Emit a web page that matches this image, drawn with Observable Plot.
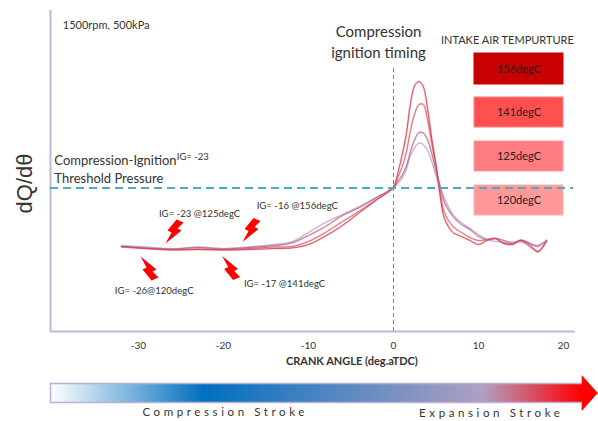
<!DOCTYPE html>
<html>
<head>
<meta charset="utf-8">
<script src="https://cdn.jsdelivr.net/npm/d3@7"></script>
<script src="https://cdn.jsdelivr.net/npm/@observablehq/plot@0.6"></script>
<style>
html,body{margin:0;padding:0;background:#fff}
svg{display:block}
</style>
</head>
<body>
<div id="chart"></div>
<script>
const crank = [-32,-29,-26,-23,-20,-17,-14,-12,-10,-8,-6,-4,-2,0,0.5,1,1.5,2,2.5,3,3.5,4,4.5,5,5.5,6,7,8,9,10,11,12,13,14,15,16,17,18];
const heat156 = [85,83,81.5,82,81.5,82,83,83.5,87,95.5,106,119,131.5,145,158,176,197,228,246,250,245,223,193,167,135,113,99,95,91,87,91,93,88,87,91,87,79.5,91];
const heat141 = [84.5,83,82,82.5,82,83,84.5,85,90,99,110,120.5,132,144,154,164,179,201,218,227,227,212,188,165,139,119,105,99,94,91,92,93,88,88,91,85,80.5,90];
const heat125 = [85,83.5,82.5,84,82.5,84,86,88.5,96,105,116,124,134,144,150,156,165,180,192,199,198.5,192,178,161,145,129,115,107,102,95,92,93,91,88,91.5,88.5,85,91];
const heat120 = [86,84.5,82.5,84.5,83,84.5,87,89.5,99,109,117,125,134,143,148,153,162,176,184,188.5,187,181,170,156,144,133,117,109,103,97,92,90,89.5,89.5,89.5,87,86.5,91];
const seriesNames = ["120degC","125degC","141degC","156degC"];
const seriesValues = [heat120,heat125,heat141,heat156];
const seriesColors = ["#b8a0c8","#b9688f","#d8606e","#d8404c"];

const boxColors = ["#ff9999","#ff7c80","#ff5050","#c80000"];
const boxStroke = ["#ffb0b0","#ff9a9c","#ff8080","#c80000"];
const boxTop = [146,190,234,278];
const boxBottom = [116,160,204,247];
const boxLeft = 9.53, boxRight = 20;
const xTicks = [-30,-20,-10,0,10,20];
const threshold = 143.5;
const axisLeft = -40.35, axisRight = 21.4, plotTop = 321;

const igLabels = ["IG= -23 @125degC","IG= -16 @156degC","IG= -26@120degC","IG= -17 @141degC"];
const igX = [-27.6,-16.1,-32.8,-17.6];
const igY = [118,126,40.3,48];
const boltUpX = [-25.76,-16.7];
const boltUpY = [100,101.5];
const boltDownX = [-28.7,-19.1];
const boltDownY = [63,63.5];

const arrowX = [-40.35,22.2,22.2,24.1];
const arrowLow = [-71,-71,-80,-62];
const arrowHigh = [-52,-52,-44,-62];

const lines = seriesNames.flatMap((name,i)=>crank.map((c,j)=>({crank:c,value:seriesValues[i][j],name})));
const boxes = seriesNames.map((name,i)=>({name,color:boxColors[i],edge:boxStroke[i],top:boxTop[i],bottom:boxBottom[i]}));
const arrow = arrowX.map((x,i)=>({x,lo:arrowLow[i],hi:arrowHigh[i]}));
const ig = igLabels.map((t,i)=>({t,x:igX[i],y:igY[i]}));

function boltSymbol(sign){
  return {draw(ctx,size){
    const s = Math.sqrt(size/Math.PI)/10;
    const pts = [[-9,12],[-3,1],[-7,-1],[2,-12],[9,-9],[3,-3],[7,-1]];
    pts.forEach(([x,y],i)=>{
      const px = x*s, py = y*s*sign;
      if(i===0) ctx.moveTo(px,py); else ctx.lineTo(px,py);
    });
    ctx.closePath();
  }};
}
const gradient = () => {
  const defs = d3.create("svg:defs");
  const g = defs.append("linearGradient").attr("id","strokeGrad").attr("x1","0").attr("x2","1").attr("y1","0").attr("y2","0");
  [["0","#ffffff"],["0.28","#0070c0"],["0.79","#b0a0c4"],["0.97","#ff0000"],["1","#ff0000"]]
    .forEach(([o,c])=>g.append("stop").attr("offset",o).attr("stop-color",c));
  return defs.node();
};
const F = "Lato";
const INK = "#333333";
const label = (t,x,y,opts={}) => Plot.text([t],{x:()=>x,y:()=>y,text:d=>d,fontFamily:F,fill:INK,...opts});

const plot = Plot.plot({
  width:598,height:421,
  marginTop:0,marginRight:0,marginBottom:0,marginLeft:0,
  x:{domain:[-46.235,24.118],range:[0,598]},
  y:{domain:[-90,331],range:[421,0],axis:null},
  color:{domain:seriesNames,range:seriesColors},
  style:{background:"#fff",fontFamily:F},
  marks:[
    gradient,
    Plot.ruleX([axisLeft],{y1:0,y2:plotTop,stroke:"#c0b6d6",strokeWidth:2}),
    Plot.ruleY([0],{x1:axisLeft,x2:axisRight,stroke:"#c0b6d6",strokeWidth:2}),
    Plot.axisX({ticks:xTicks,tickSize:0,tickPadding:0,tickFormat:d=>String(d),dy:-80,fontSize:10,fontFamily:F,fill:INK,label:null}),
    Plot.rect(boxes,{x1:()=>boxLeft,x2:()=>boxRight,y1:"bottom",y2:"top",fill:"color",stroke:"edge"}),
    Plot.text(boxes,{x:()=>(boxLeft+boxRight)/2,y:d=>(d.top+d.bottom)/2,text:"name",fontSize:11,fontFamily:F,fill:"#222"}),
    Plot.ruleX([0],{y1:0,y2:266,stroke:"#8e6fc0",strokeDasharray:"4,3",strokeWidth:1}),
    Plot.line(lines,{x:"crank",y:"value",z:"name",stroke:"name",strokeWidth:2.2,strokeOpacity:0.25,curve:"catmull-rom"}),
    Plot.line(lines,{x:"crank",y:"value",z:"name",stroke:"name",strokeWidth:0.9,curve:"catmull-rom"}),
    Plot.ruleY([threshold],{x1:axisLeft,x2:21.2,stroke:"#4bacc6",strokeDasharray:"8,5",strokeWidth:1.8}),
    label("1500rpm, 500kPa",-38.9,306,{textAnchor:"start",fontSize:11}),
    label("Compression",-1.76,299,{fontSize:15}),
    label("ignition timing",-1.76,278,{fontSize:15}),
    label("INTAKE AIR TEMPURTURE",13.4,291,{fontSize:11}),
    label("Compression-Ignition",-39.9,171,{textAnchor:"start",fontSize:13}),
    label("Threshold Pressure",-39.9,152.5,{textAnchor:"start",fontSize:13}),
    label("IG= -23",-25.5,175,{textAnchor:"start",fontSize:9.5}),
    Plot.text(ig,{x:"x",y:"y",text:"t",textAnchor:"start",fontSize:9.6,fontFamily:F,fill:INK}),
    Plot.dot(boltUpX.map((x,i)=>({x,y:boltUpY[i]})),{x:"x",y:"y",r:10,symbol:boltSymbol(1),fill:"#ff0000",stroke:"none"}),
    Plot.dot(boltDownX.map((x,i)=>({x,y:boltDownY[i]})),{x:"x",y:"y",r:10,symbol:boltSymbol(-1),fill:"#ff0000",stroke:"none"}),
    label("dQ/d\u03b8",-43.3,148,{rotate:-90,fontSize:22,fontFamily:"Liberation Sans"}),
    label("CRANK ANGLE (deg.aTDC)",-4.9,-29.7,{fontSize:11,fontWeight:"bold"}),
    Plot.areaY(arrow,{x:"x",y1:"lo",y2:"hi",fill:"url(#strokeGrad)",curve:"linear"}),
    Plot.ruleY(arrowHigh.slice(0,1).concat(arrowLow.slice(0,1)),{x1:arrowX[0],x2:arrowX[1],stroke:"#bdb0d3",strokeWidth:1.5}),
    Plot.ruleX([arrowX[0]],{y1:arrowLow[0],y2:arrowHigh[0],stroke:"#bdb0d3",strokeWidth:1.5}),
    label("Compression Stroke",-19.8,-81,{fontSize:11.5}),
    label("Expansion Stroke",11.5,-82,{fontSize:11.5})
  ]
});
d3.select(plot).selectAll("text").filter(function(){return /Stroke$/.test(this.textContent)}).style("letter-spacing","3.6px");
document.getElementById("chart").appendChild(plot);
</script>
</body>
</html>
